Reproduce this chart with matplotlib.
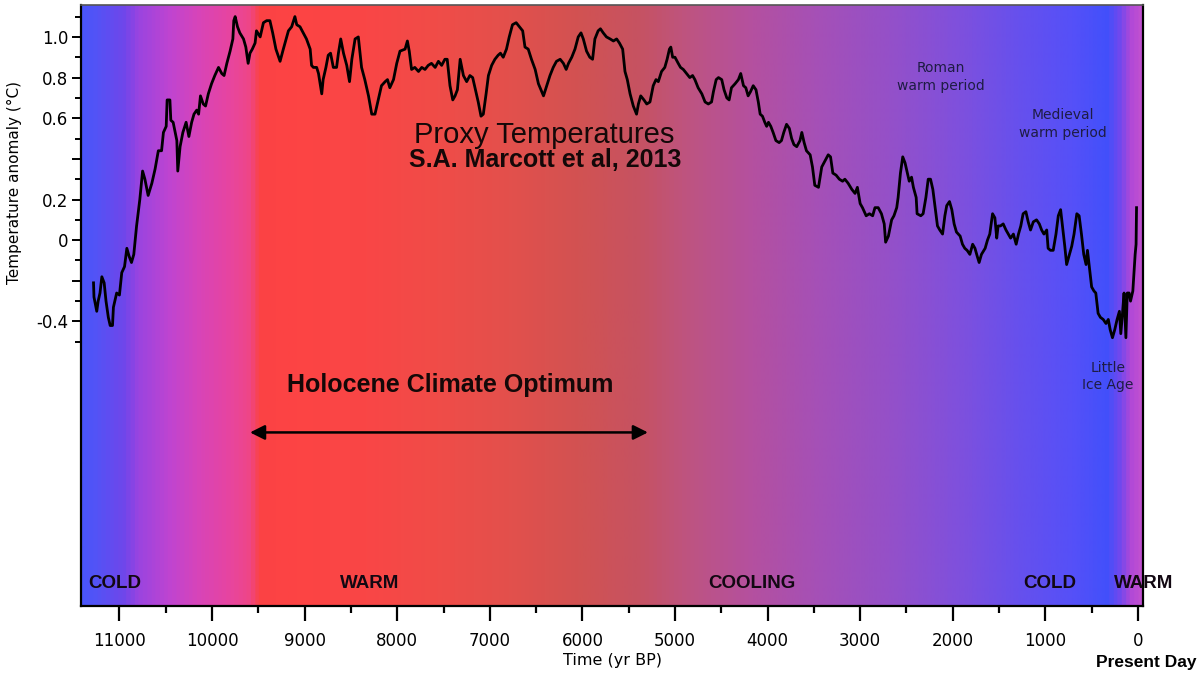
import numpy as np
import matplotlib
matplotlib.use('Agg')
import matplotlib.pyplot as plt
from matplotlib.colors import LinearSegmentedColormap, Normalize

# ------------------------------------------------------------------ data
# Marcott et al. (2013) proxy stack (yr BP, deg C)
years = [
    11280, 11275, 11245, 11230, 11210, 11190, 11165, 11145, 11120, 11100,
    11075, 11065, 11030, 11000, 10975, 10945, 10920, 10895, 10870, 10845,
    10815, 10780, 10750, 10725, 10690, 10650, 10615, 10580, 10545, 10525,
    10495, 10485, 10455, 10445, 10420, 10380, 10370, 10345, 10315, 10280,
    10250, 10220, 10195, 10165, 10145, 10125, 10095, 10070, 10040, 10005,
    9970, 9930, 9895, 9870, 9840, 9805, 9775, 9765, 9750, 9725,
    9700, 9660, 9635, 9610, 9590, 9565, 9535, 9520, 9480, 9445,
    9410, 9375, 9345, 9310, 9265, 9230, 9175, 9140, 9105, 9085,
    9050, 9015, 8980, 8940, 8925, 8905, 8870, 8850, 8815, 8800,
    8770, 8745, 8720, 8690, 8655, 8635, 8610, 8580, 8545, 8515,
    8490, 8455, 8420, 8385, 8350, 8310, 8275, 8240, 8205, 8170,
    8130, 8105, 8080, 8040, 8005, 7970, 7915, 7890, 7870, 7845,
    7810, 7770, 7735, 7700, 7665, 7630, 7590, 7555, 7520, 7485,
    7460, 7430, 7400, 7375, 7350, 7320, 7285, 7250, 7215, 7185,
    7150, 7125, 7095, 7070, 7040, 7015, 6980, 6945, 6910, 6885,
    6855, 6820, 6790, 6755, 6715, 6680, 6645, 6620, 6585, 6550,
    6510, 6475, 6420, 6385, 6350, 6315, 6280, 6240, 6205, 6175,
    6150, 6115, 6080, 6045, 6015, 5990, 5955, 5920, 5890, 5865,
    5830, 5805, 5775, 5740, 5700, 5665, 5630, 5600, 5565, 5540,
    5515, 5485, 5450, 5415, 5395, 5370, 5335, 5305, 5270, 5235,
    5205, 5180, 5145, 5110, 5085, 5060, 5045, 5025, 5000, 4965,
    4940, 4910, 4875, 4840, 4810, 4785, 4750, 4710, 4675, 4640,
    4605, 4585, 4555, 4530, 4495, 4470, 4440, 4415, 4390, 4350,
    4315, 4290, 4260, 4235, 4210, 4185, 4155, 4125, 4100, 4080,
    4055, 4030, 4010, 3990, 3965, 3940, 3910, 3875, 3850, 3825,
    3795, 3765, 3740, 3715, 3685, 3650, 3630, 3605, 3580, 3540,
    3515, 3490, 3450, 3415, 3380, 3345, 3320, 3295, 3260, 3225,
    3190, 3165, 3130, 3090, 3055, 3030, 3000, 2975, 2935, 2900,
    2865, 2840, 2805, 2770, 2740, 2725, 2695, 2660, 2635, 2605,
    2590, 2565, 2540, 2515, 2490, 2470, 2445, 2425, 2395, 2385,
    2345, 2320, 2290, 2265, 2240, 2215, 2190, 2165, 2140, 2110,
    2085, 2065, 2035, 2010, 1985, 1960, 1920, 1895, 1870, 1845,
    1815, 1785, 1760, 1735, 1715, 1690, 1650, 1625, 1600, 1570,
    1545, 1525, 1510, 1485, 1455, 1425, 1400, 1375, 1345, 1315,
    1290, 1265, 1240, 1210, 1185, 1160, 1130, 1095, 1065, 1040,
    1015, 985, 970, 945, 915, 885, 860, 835, 815, 790,
    770, 740, 715, 690, 660, 635, 610, 585, 560, 545,
    525, 500, 475, 455, 430, 405, 375, 345, 320, 300,
    275, 250, 225, 200, 185, 165, 150, 130, 115, 95,
    80, 55, 45, 30, 20, 15,
]
anomaly = [
    -0.21, -0.28, -0.35, -0.30, -0.26, -0.18, -0.21, -0.30, -0.38, -0.42,
    -0.42, -0.33, -0.26, -0.27, -0.16, -0.13, -0.04, -0.08, -0.11, -0.07,
    0.07, 0.20, 0.34, 0.30, 0.22, 0.28, 0.35, 0.44, 0.44, 0.53,
    0.56, 0.69, 0.69, 0.59, 0.58, 0.49, 0.34, 0.46, 0.53, 0.58,
    0.51, 0.58, 0.62, 0.64, 0.62, 0.71, 0.67, 0.66, 0.72, 0.77,
    0.81, 0.85, 0.82, 0.81, 0.87, 0.93, 0.99, 1.08, 1.10, 1.05,
    1.02, 0.99, 0.95, 0.87, 0.92, 0.94, 0.97, 1.03, 1.00, 1.07,
    1.08, 1.08, 1.02, 0.94, 0.88, 0.94, 1.03, 1.05, 1.10, 1.06,
    1.05, 1.02, 0.99, 0.94, 0.86, 0.85, 0.85, 0.82, 0.72, 0.79,
    0.85, 0.91, 0.92, 0.85, 0.85, 0.92, 0.99, 0.92, 0.86, 0.78,
    0.89, 0.99, 1.00, 0.85, 0.79, 0.71, 0.62, 0.62, 0.69, 0.76,
    0.78, 0.79, 0.75, 0.79, 0.87, 0.93, 0.94, 0.98, 0.93, 0.84,
    0.85, 0.83, 0.85, 0.84, 0.86, 0.87, 0.85, 0.88, 0.86, 0.89,
    0.89, 0.76, 0.69, 0.71, 0.74, 0.89, 0.81, 0.78, 0.81, 0.80,
    0.73, 0.68, 0.61, 0.62, 0.72, 0.81, 0.86, 0.89, 0.91, 0.92,
    0.90, 0.94, 1.00, 1.06, 1.07, 1.05, 1.03, 0.95, 0.94, 0.89,
    0.84, 0.77, 0.71, 0.76, 0.81, 0.85, 0.88, 0.89, 0.87, 0.84,
    0.87, 0.90, 0.94, 1.00, 1.02, 0.99, 0.93, 0.90, 0.89, 0.99,
    1.03, 1.04, 1.02, 1.00, 0.99, 0.98, 0.99, 0.97, 0.94, 0.83,
    0.79, 0.72, 0.66, 0.62, 0.67, 0.71, 0.69, 0.67, 0.68, 0.76,
    0.79, 0.78, 0.83, 0.85, 0.89, 0.94, 0.95, 0.90, 0.90, 0.87,
    0.85, 0.84, 0.82, 0.80, 0.81, 0.79, 0.75, 0.72, 0.68, 0.67,
    0.68, 0.73, 0.79, 0.80, 0.79, 0.74, 0.70, 0.69, 0.75, 0.77,
    0.79, 0.82, 0.76, 0.75, 0.71, 0.73, 0.76, 0.74, 0.68, 0.62,
    0.61, 0.58, 0.56, 0.58, 0.56, 0.53, 0.49, 0.48, 0.49, 0.53,
    0.57, 0.55, 0.50, 0.47, 0.46, 0.49, 0.53, 0.48, 0.44, 0.42,
    0.36, 0.27, 0.26, 0.36, 0.39, 0.42, 0.41, 0.33, 0.32, 0.30,
    0.29, 0.30, 0.28, 0.25, 0.23, 0.26, 0.18, 0.16, 0.12, 0.13,
    0.12, 0.16, 0.16, 0.13, 0.08, -0.01, 0.02, 0.10, 0.12, 0.16,
    0.21, 0.33, 0.41, 0.38, 0.33, 0.29, 0.31, 0.26, 0.21, 0.13,
    0.12, 0.13, 0.21, 0.30, 0.30, 0.25, 0.16, 0.07, 0.05, 0.03,
    0.12, 0.17, 0.19, 0.15, 0.08, 0.04, 0.02, -0.02, -0.04, -0.05,
    -0.07, -0.02, -0.04, -0.08, -0.11, -0.07, -0.04, 0.00, 0.03, 0.13,
    0.11, 0.01, 0.07, 0.07, 0.08, 0.05, 0.03, 0.01, 0.03, -0.02,
    0.03, 0.07, 0.13, 0.14, 0.09, 0.05, 0.09, 0.10, 0.08, 0.05,
    0.03, 0.05, -0.04, -0.05, -0.05, 0.03, 0.12, 0.15, 0.07, -0.03,
    -0.12, -0.07, -0.03, 0.03, 0.13, 0.12, 0.03, -0.07, -0.12, -0.05,
    -0.13, -0.23, -0.25, -0.26, -0.36, -0.38, -0.39, -0.41, -0.39, -0.44,
    -0.48, -0.44, -0.39, -0.35, -0.46, -0.35, -0.26, -0.48, -0.26, -0.26,
    -0.30, -0.25, -0.18, -0.07, -0.02, 0.16,
]

xtick_vals = [11000, 10000, 9000, 8000, 7000, 6000, 5000, 4000, 3000, 2000, 1000, 0]
ytick_vals = [-0.4, -0.2, 0, 0.2, 0.4, 0.6, 0.8, 1.0]
ytick_labels = ['-0.4', '', '0', '0.2', '', '0.6', '0.8', '1.0']

# climate phase labels along the bottom
phase_names = ['COLD', 'WARM', 'COOLING', 'COLD', 'WARM']
phase_years = [11050, 8295, 4170, 950, -65]

# background colour stops (yr BP -> colour)
bg_years = [11416, 11275, 10962, 10811, 10465, 10152, 9806, 9600, 9500, 9115,
            8338, 7571, 6793, 6026, 5378, 4860, 4136, 3402, 2678, 1944,
            1220, 670, 302, 162, 43, -60]
bg_colors = ['#4a55fb', '#5353f6', '#7046ea', '#9a44e0', '#c045d0', '#d844b8',
             '#e8459e', '#ef4686', '#fb4244', '#fd4444', '#f94646', '#f04c48',
             '#e3504c', '#d25252', '#c65262', '#be5480', '#b450a0', '#a450b8',
             '#9550c8', '#8050dc', '#6550ee', '#5550f8', '#4250fb', '#7048ee',
             '#b048d8', '#c050d0']

XMIN, XMAX = 11410, -60
YMIN, YMAX = -1.80, 1.157

# ------------------------------------------------------------------ figure
fig = plt.figure(figsize=(12, 6.78), dpi=100)
ax = fig.add_axes([0.0679, 0.1062, 0.885, 0.8864])

# gradient background
lo, hi = min(bg_years), max(bg_years)
stops = sorted(zip(bg_years, bg_colors))
cmap = LinearSegmentedColormap.from_list(
    'bg', [((t - lo) / (hi - lo), c) for t, c in stops])
grad = np.linspace(XMIN, XMAX, 1200).reshape(1, -1)
ax.imshow(grad, cmap=cmap, norm=Normalize(lo, hi), aspect='auto',
          extent=(XMIN, XMAX, YMIN, YMAX), zorder=0, interpolation='bilinear')

ax.plot(years, anomaly, color='black', lw=2.0, zorder=3, solid_joinstyle='round')

ax.set_xlim(XMIN, XMAX)
ax.set_ylim(YMIN, YMAX)

# ticks
ax.set_xticks(xtick_vals)
ax.set_xticklabels([str(v) for v in xtick_vals])
ax.set_xticks(np.arange(500, 11001, 1000), minor=True)
ax.set_yticks(ytick_vals)
ax.set_yticklabels(ytick_labels)
ax.set_yticks(np.arange(-0.5, 1.15, 0.1), minor=True)
ax.tick_params(axis='x', which='major', length=11, width=1.6, pad=8, labelsize=12)
ax.tick_params(axis='x', which='minor', length=5, width=1.6)
ax.tick_params(axis='y', which='major', length=6.5, width=1.4, pad=3, labelsize=12)
ax.tick_params(axis='y', which='minor', length=4.5, width=1.4)
for side in ['left', 'bottom', 'right']:
    ax.spines[side].set_linewidth(1.6)
    ax.spines[side].set_color('black')
ax.spines['top'].set_linewidth(1.2)
ax.spines['top'].set_color('#555555')

ax.set_ylabel('Temperature anomaly (°C)', fontsize=11)
ax.yaxis.set_label_coords(-0.056, 0.705)
ax.set_xlabel('Time (yr BP)', fontsize=11.5)
ax.xaxis.set_label_coords(0.5, -0.078)

# ------------------------------------------------------------------ annotations
arial = 'Liberation Sans'
ax.text(6415, 0.517, 'Proxy Temperatures', family=arial, fontsize=21,
        ha='center', va='center', color='#140808')
ax.text(6404, 0.394, 'S.A. Marcott et al, 2013', family=arial, fontsize=18,
        fontweight='bold', ha='center', va='center', color='#140808')
ax.text(7430, -0.714, 'Holocene Climate Optimum', family=arial, fontsize=18,
        fontweight='bold', ha='center', va='center', color='#140808')
ax.annotate('', xy=(5292, -0.946), xytext=(9590, -0.946),
            arrowprops=dict(arrowstyle='<|-|>', color='black', lw=1.8,
                            mutation_scale=22, shrinkA=0, shrinkB=0))

navy = '#1e1c44'
ax.text(2128, 0.803, 'Roman\nwarm period', fontsize=10, ha='center',
        va='center', color=navy, linespacing=1.35)
ax.text(810, 0.571, 'Medieval\nwarm period', fontsize=10, ha='center',
        va='center', color=navy, linespacing=1.35)
ax.text(324, -0.67, 'Little\nIce Age', fontsize=10, ha='center',
        va='center', color=navy, linespacing=1.3)

for name, yr in zip(phase_names, phase_years):
    ax.text(yr, -1.69, name, family=arial, fontsize=13.5, fontweight='bold',
            ha='center', va='center', color='#120812', clip_on=False)

fig.text(1146 / 1200, 1 - 662 / 678, 'Present Day', family=arial, fontsize=12.5,
         fontweight='bold', ha='center', va='center')

fig.savefig('out.png', dpi=100)
